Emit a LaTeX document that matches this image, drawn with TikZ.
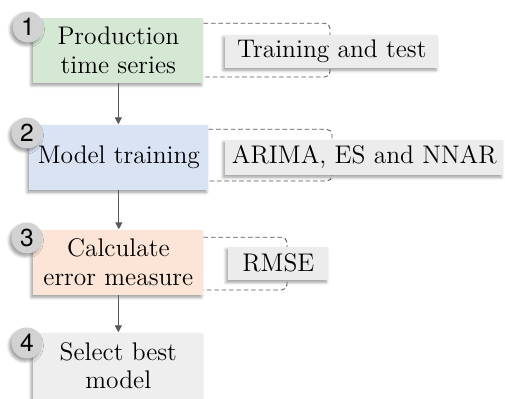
\documentclass[tikz,border=0pt]{standalone}
\usepackage{fontspec}
\setsansfont{TeX Gyre Heros}
\usepackage{tikz}
\usetikzlibrary{calc}
\usetikzlibrary{positioning}
\usetikzlibrary{backgrounds}
\usetikzlibrary{shadows.blur}
\usetikzlibrary{arrows.meta}

\definecolor{stepgreen}{HTML}{D5E8D4}
\definecolor{stepblue}{HTML}{DAE3F3}
\definecolor{steporange}{HTML}{FCE4D6}
\definecolor{stepgrey}{HTML}{EEEEEE}
\definecolor{notegrey}{HTML}{ECECEC}
\definecolor{circgrey}{HTML}{D2D2D2}
\definecolor{linegrey}{HTML}{595959}

\tikzset{
  softshadow/.style={blur shadow={shadow xshift=-1.2pt, shadow yshift=-1.5pt, shadow blur steps=5, shadow opacity=40}},
  stepbox/.style={rectangle, minimum width=3.4cm, minimum height=1.3cm, align=center, anchor=south west, inner sep=2pt, font=\rmfamily\fontsize{14.5}{16.5}\selectfont, softshadow},
  notebox/.style={rectangle, fill=notegrey, minimum height=0.66cm, anchor=south west, inner sep=2pt, font=\rmfamily\fontsize{14.5}{16.5}\selectfont, softshadow},
  numcirc/.style={circle, fill=circgrey, minimum size=0.62cm, inner sep=0pt, font=\sffamily\fontsize{14}{16}\selectfont, softshadow},
  notebracket/.style={draw=linegrey, dash pattern=on 2.6pt off 1.6pt, line width=0.5pt, rounded corners=3pt},
  flowarrow/.style={draw=linegrey, line width=0.7pt, -{Triangle[length=4pt, width=4pt]}}
}

\begin{document}
\begin{tikzpicture}[x=0.02cm, y=-0.02cm]
\useasboundingbox (0,0) rectangle (505,399);

% main steps
\node at (33,83)[stepbox, fill=stepgreen] (prod) {Production\\time series};
\node at (29,190)[stepbox, fill=stepblue, minimum width=3.58cm] (train) {Model training};
\node at (33,295)[stepbox, fill=steporange] (error) {Calculate\\error measure};
\node at (33,399)[stepbox, fill=stepgrey, minimum height=1.32cm] (select) {Select best\\model};

% step numbers
\node at (28,27)[numcirc] (num1) {1};
\node at (27,133)[numcirc] (num2) {2};
\node at (27,238)[numcirc] (num3) {3};
\node at (27,343)[numcirc] (num4) {4};

% notes
\node at (225,68)[notebox, minimum width=4.26cm] (notedata) {Training and test};
\node at (225,175)[notebox, minimum width=5.56cm, minimum height=0.7cm] (notemodels) {ARIMA, ES and NNAR};
\node at (228,280)[notebox, minimum width=2.0cm] (noteerror) {RMSE};

\coordinate (edge1) at (330,51);
\coordinate (edge2) at (332,157);
\coordinate (edge3) at (287,264);

\begin{scope}[on background layer]
\draw[notebracket] ($(prod.north east)+(0,6)$) -| (edge1) |- ($(prod.south east)+(0,-6)$);
\draw[notebracket] ($(train.north east)+(0,5)$) -| (edge2) |- ($(train.south east)+(0,-9)$);
\draw[notebracket] ($(error.north east)+(0,8)$) -| (edge3) |- ($(error.south east)+(0,-5)$);
\end{scope}

% flow
\draw[flowarrow] (prod.south) -- (prod.south |- train.north);
\draw[flowarrow] (train.south) -- (train.south |- error.north);
\draw[flowarrow] (error.south) -- (error.south |- select.north);

\end{tikzpicture}
\end{document}
